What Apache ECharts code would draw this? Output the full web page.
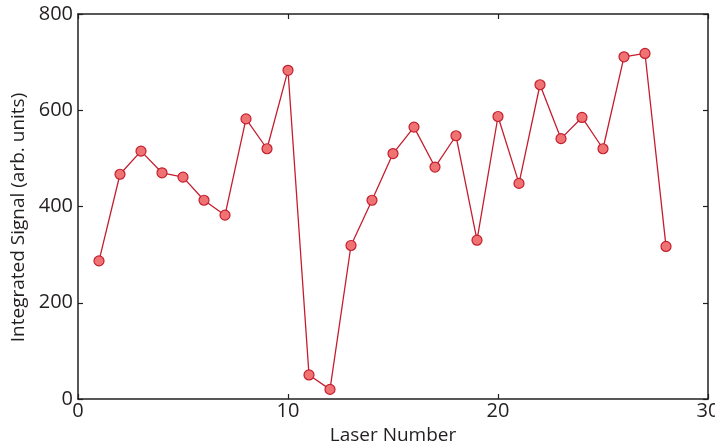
<!DOCTYPE html>
<html>
<head>
<meta charset="utf-8">
<script src="https://cdn.jsdelivr.net/npm/echarts@6/dist/echarts.min.js"></script>
<style>
  html, body { margin: 0; padding: 0; background: #fff; }
  #chart { width: 715px; height: 442px; }
</style>
</head>
<body>
<div id="chart"></div>
<script>
// laser index and integrated signal
const laserNumbers = [1, 2, 3, 4, 5, 6, 7, 8, 9, 10, 11, 12, 13, 14,
  15, 16, 17, 18, 19, 20, 21, 22, 23, 24, 25, 26, 27, 28];
const signalValues = [287, 467, 515, 470, 461, 413, 382, 582, 520, 683, 50, 20, 319, 413,
  510, 565, 482, 547, 330, 587, 448, 653, 541, 585, 520, 711, 718, 317];
const xTicks = [0, 10, 20, 30];
const yTicks = [0, 200, 400, 600, 800];

const myChart = echarts.init(document.getElementById("chart"));

const axisFont = "'Open Sans', 'Noto Sans', sans-serif";
const textColor = "#231f20";
const frameLine = { show: true, onZero: false, lineStyle: { color: "#231f20", width: 1.5 } };
const innerTick = { show: true, inside: true, length: 5, lineStyle: { color: "#231f20", width: 1.2 } };

const option = {
  animation: false,
  backgroundColor: "#fff",
  grid: { left: 78, right: 7, top: 14, bottom: 43, containLabel: false, outerBoundsMode: "none" },
  xAxis: [
    {
      type: "value",
      min: xTicks[0],
      max: xTicks[xTicks.length - 1],
      interval: 10,
      name: "Laser Number",
      nameLocation: "middle",
      nameGap: 22,
      nameTextStyle: { fontFamily: axisFont, fontSize: 19, color: textColor },
      axisLine: frameLine,
      axisTick: innerTick,
      splitLine: { show: false },
      axisLabel: { fontFamily: axisFont, fontSize: 20, color: textColor, margin: 2 },
    },
    {
      type: "value",
      position: "top",
      min: xTicks[0],
      max: xTicks[xTicks.length - 1],
      interval: 10,
      axisLine: frameLine,
      axisTick: innerTick,
      splitLine: { show: false },
      axisLabel: { show: false },
    },
  ],
  yAxis: [
    {
      type: "value",
      min: yTicks[0],
      max: yTicks[yTicks.length - 1],
      interval: 200,
      name: "Integrated Signal (arb. units)",
      nameLocation: "middle",
      nameGap: 44,
      nameTextStyle: { fontFamily: axisFont, fontSize: 19, color: textColor, padding: [0, 22, 0, 0] },
      axisLine: frameLine,
      axisTick: innerTick,
      splitLine: { show: false },
      axisLabel: { fontFamily: axisFont, fontSize: 20, color: textColor, margin: 5 },
    },
    {
      type: "value",
      position: "right",
      min: yTicks[0],
      max: yTicks[yTicks.length - 1],
      interval: 200,
      axisLine: frameLine,
      axisTick: innerTick,
      splitLine: { show: false },
      axisLabel: { show: false },
    },
  ],
  series: [
    {
      type: "line",
      data: laserNumbers.map((n, i) => [n, signalValues[i]]),
      symbol: "circle",
      symbolSize: 10,
      lineStyle: { color: "#c41e2e", width: 1.3 },
      itemStyle: { color: "#f07373", borderColor: "#c41e2e", borderWidth: 1.2 },
    },
  ],
};

myChart.setOption(option);
</script>
</body>
</html>
